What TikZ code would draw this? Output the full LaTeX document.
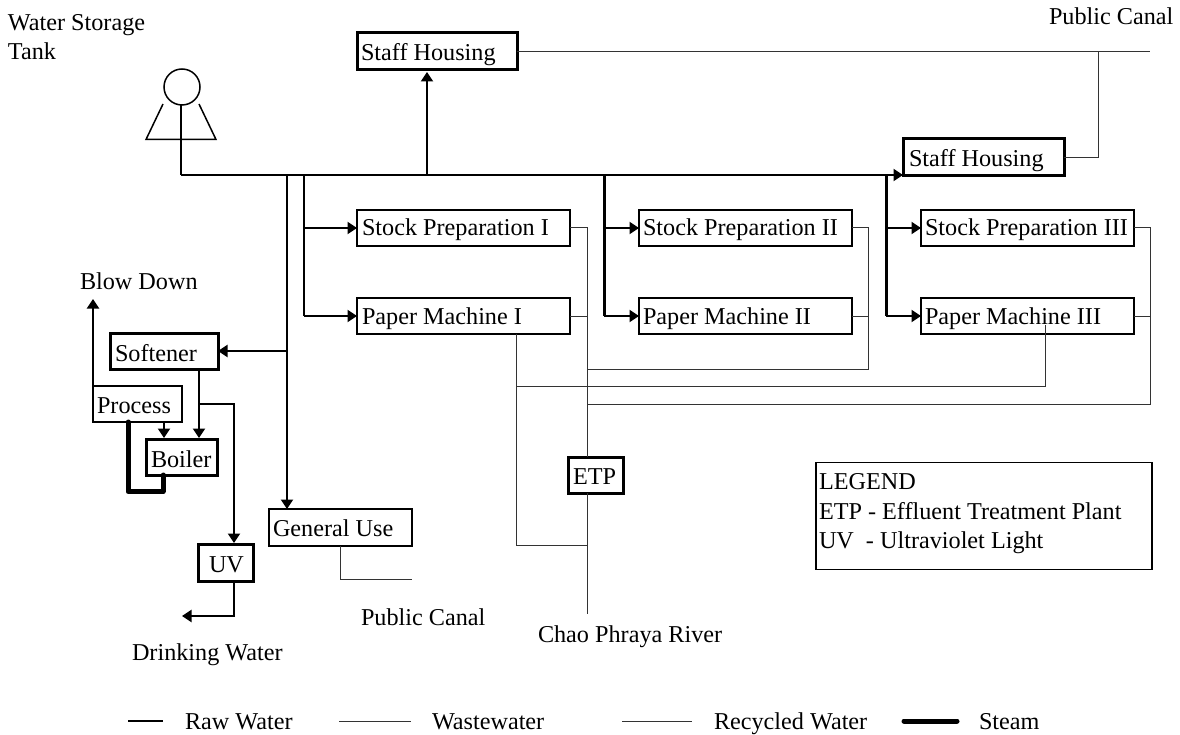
\documentclass[tikz,border=0pt]{standalone}
\usepackage{fontspec}
\setmainfont{Liberation Serif}
\usetikzlibrary{arrows.meta}
\tikzset{
  x=1pt,y=-1pt,
  every node/.style={font=\fontsize{24.2}{28}\selectfont,inner sep=0pt,outer sep=0pt},
  lab/.style={anchor=base west},
  boxthin/.style={draw,line width=1.9pt,anchor=north west},
  boxthick/.style={draw,line width=3pt,anchor=north west},
  raw/.style={line width=2pt},
  rawthick/.style={line width=3pt},
  waste/.style={line width=1pt,black!80},
  steam/.style={line width=5pt,line join=round,line cap=round},
  tip/.style={-{Triangle[length=9.5pt,width=12pt]}},
}
\begin{document}
\begin{tikzpicture}
\useasboundingbox (0,0) rectangle (1180,735);
% boxes
\node[boxthick,minimum width=160pt,minimum height=37pt] (sh1) at (357,33) {};
\node[lab] at (361,61) {Staff Housing};
\node[boxthick,minimum width=161pt,minimum height=37pt] (sh2) at (903,139) {};
\node[lab] at (909,167) {Staff Housing};
\node[boxthin,minimum width=213pt,minimum height=36pt] (sp1) at (357,210) {};
\node[lab] at (362,236) {Stock Preparation I};
\node[boxthin,minimum width=213pt,minimum height=36pt] (pm1) at (357,298) {};
\node[lab] at (362,324) {Paper Machine I};
\node[boxthin,minimum width=213pt,minimum height=36pt] (sp2) at (639,210) {};
\node[lab] at (643,236) {Stock Preparation II};
\node[boxthin,minimum width=213pt,minimum height=36pt] (pm2) at (639,298) {};
\node[lab] at (643,324) {Paper Machine II};
\node[boxthin,minimum width=213pt,minimum height=36pt] (sp3) at (921,210) {};
\node[lab] at (925,236) {Stock Preparation III};
\node[boxthin,minimum width=213pt,minimum height=36pt] (pm3) at (921,298) {};
\node[lab] at (925,324) {Paper Machine III};
\node[boxthick,minimum width=108pt,minimum height=36pt] (soft) at (110,333) {};
\node[lab] at (115,361) {Softener};
\node[boxthin,minimum width=89pt,minimum height=36pt] (proc) at (93,386) {};
\node[lab] at (97,413) {Process};
\node[boxthick,minimum width=71pt,minimum height=36pt] (boil) at (146,439) {};
\node[lab] at (151,467) {Boiler};
\node[boxthick,minimum width=55pt,minimum height=37pt] (uv) at (198,544) {};
\node[lab] at (209,572) {UV};
\node[boxthin,minimum width=143pt,minimum height=37pt] (gen) at (269,509) {};
\node[lab] at (273,536) {General Use};
\node[boxthick,minimum width=55pt,minimum height=36pt] (etp) at (568,457) {};
\node[lab] at (573,484) {ETP};
\node[boxthin,minimum width=336pt,minimum height=107pt] (leg) at (816,462.5) {};
\node[lab] at (819,489) {LEGEND};
\node[lab] at (819,519) {ETP - Effluent Treatment Plant};
\node[lab] at (819,548) {UV\hspace{6pt} - Ultraviolet Light};
% free labels
\node[lab] (tank1) at (8,31) {Water Storage};
\node[lab] (tank2) at (8,60) {Tank};
\node[lab] (pc1) at (1049,25) {Public Canal};
\node[lab] (bd) at (80,290) {Blow Down};
\node[lab] (pc2) at (361,625) {Public Canal};
\node[lab] (cp) at (538,642) {Chao Phraya River};
\node[lab] (dw) at (132,660) {Drinking Water};
\node[lab] (l1) at (185,729.5) {Raw Water};
\node[lab] (l2) at (432,729.5) {Wastewater};
\node[lab] (l3) at (714,729.5) {Recycled Water};
\node[lab] (l4) at (979,729.5) {Steam};
% tank
\node[draw,circle,line width=1.5pt,minimum size=36pt] (tank) at (182,87) {};
\draw[line width=1.5pt] (163,104) -- (146,139.5) -- (216,139.5) -- (199,104);
% raw water
\coordinate (a) at (181,175);
\draw[raw] (tank.south -| a) -- (a);
\draw[raw,tip] (a) -- (sh2.west |- a);
\draw[raw,tip] (427,175) -- (427,72);
\draw[raw,tip] (287,175) -- (287,0 |- gen.north);
\draw[raw,tip] (287,351) -- (soft.east |- 0,351);
\draw[raw] (304,175) -- (304,316);
\draw[raw,tip] (304,228) -- (sp1.west);
\draw[raw,tip] (304,316) -- (pm1.west);
\draw[rawthick] (604,175) -- (604,316);
\draw[raw,tip] (604,228) -- (sp2.west);
\draw[raw,tip] (604,316) -- (pm2.west);
\draw[rawthick] (886,175) -- (886,316);
\draw[raw,tip] (886,228) -- (sp3.west);
\draw[raw,tip] (886,316) -- (pm3.west);
\draw[raw,tip] (199,369) -- (199,438);
\draw[raw,tip] (164,422) -- (164,438);
\draw[raw,tip] (199,404) -- (234,404) -- (234,543);
\draw[raw,tip] (93,386) -- (93,299);
% steam
\draw[steam] (128,422) -- (128,491.5) -- (163,491.5) -- (163,475);
% waste
\draw[waste] (sh1.east) -- (1150,51.5);
\draw[waste] (1098,51.5) -- (1098,157.5) -- (sh2.east);
\draw[waste] (sp1.east) -- (587,228) -- (587,457);
\draw[waste] (pm1.east) -- (587,316);
\draw[waste] (587,493) -- (587,614);
\draw[waste] (sp2.east) -- (868,228) -- (868,369) -- (587,369);
\draw[waste] (pm2.east) -- (868,316);
\draw[waste] (516,334) -- (516,545) -- (587,545);
\draw[waste] (516,386) -- (1045,386) -- (1045,325);
\draw[waste] (sp3.east) -- (1150,228) -- (1150,404) -- (587,404);
\draw[waste] (pm3.east) -- (1150,316);
\draw[waste] (340,546) -- (340,579) -- (412,579);
% uv out
\draw[raw,line width=2.6pt] (234,581) -- (234,616);
\draw[raw,tip] (235,616) -- (182,616);
% legend lines
\draw[raw] (128,721) -- (163,721);
\draw[waste] (339,721) -- (411,721);
\draw[waste] (622,721) -- (692,721);
\draw[steam] (904,721) -- (957,721);
\end{tikzpicture}
\end{document}
